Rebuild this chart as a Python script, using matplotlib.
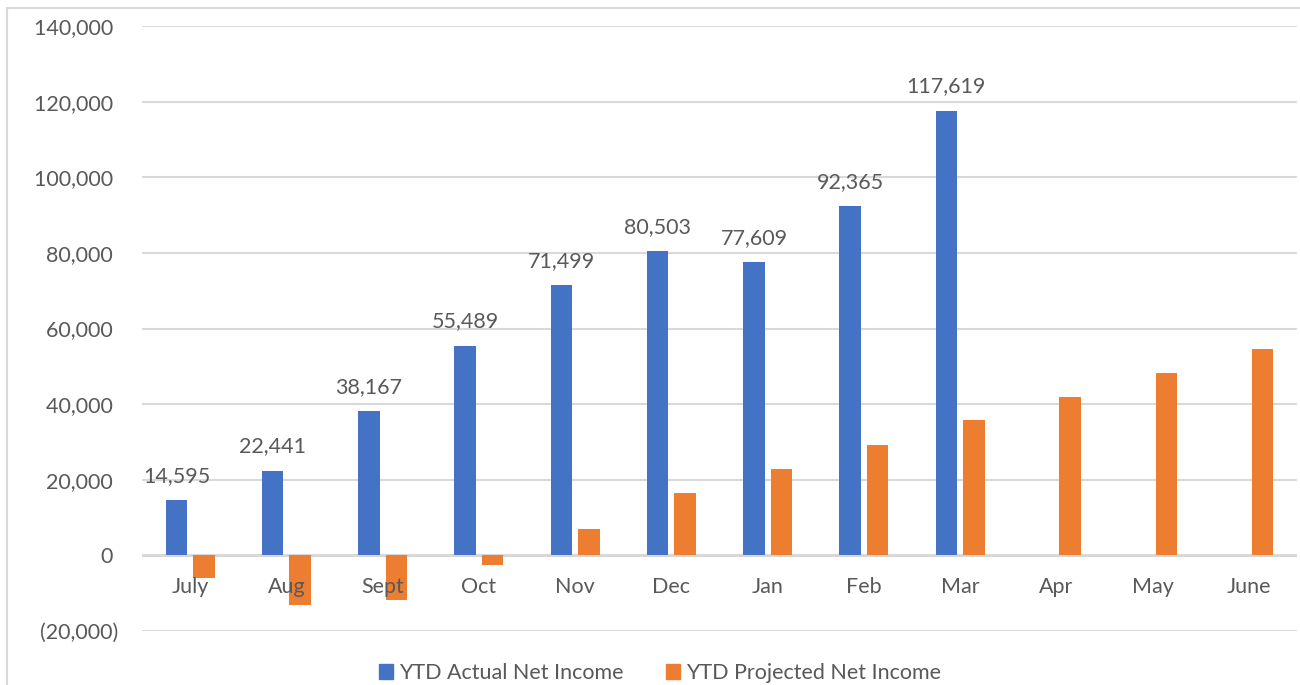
import matplotlib.pyplot as plt
from matplotlib.lines import Line2D
from matplotlib.patches import Patch
from matplotlib.ticker import FuncFormatter
import numpy as np

# Monthly YTD net income, actual vs projected
months = ['July', 'Aug', 'Sept', 'Oct', 'Nov', 'Dec', 'Jan', 'Feb', 'Mar', 'Apr', 'May', 'June']
actual = [14595, 22441, 38167, 55489, 71499, 80503, 77609, 92365, 117619]
projected = [-6100, -13200, -11900, -2500, 6900, 16400, 22850, 29300, 35700, 41850, 48200, 54500]

blue = '#4472C4'
orange = '#ED7D31'
txt = '#595959'
grid = '#D9D9D9'
fs = 15.5

plt.rcParams['font.family'] = ['Lato', 'DejaVu Sans']
plt.rcParams['font.size'] = fs

fig = plt.figure(figsize=(13, 6.85), dpi=100)
ax = fig.add_axes([142/1300, 1-631/685, 1155/1300, 605/685])

x = np.arange(len(months))
w = 0.224
off = 0.142
ax.bar(x[:len(actual)] - off, actual, w, color=blue, zorder=2)
ax.bar(x + off, projected, w, color=orange, zorder=2)

# value labels over the actual bars
for i, v in enumerate(actual):
    ax.annotate(f'{v:,}', (i - off, v), xytext=(0, 13), textcoords='offset points',
                ha='center', va='baseline', color=txt, fontsize=fs)

# category labels sit just under the zero line
for i, m in enumerate(months):
    ax.annotate(m, (i, 0), xytext=(0, -22.5), textcoords='offset points',
                ha='center', va='center', color=txt, fontsize=fs, zorder=5)

ax.set_xlim(-0.5, len(months) - 0.5)
ax.set_ylim(-20000, 140000)
ax.set_yticks(np.arange(-20000, 140001, 20000))
ax.yaxis.set_major_formatter(FuncFormatter(
    lambda v, p: f'({abs(v):,.0f})' if v < 0 else f'{v:,.0f} '))
ax.tick_params(axis='y', length=0, pad=17, colors=txt, labelsize=fs)
ax.set_xticks([])
ax.grid(axis='y', color=grid, lw=1.5, zorder=0)
ax.axhline(0, color='#D0D0D0', lw=2, zorder=1)
for s in ax.spines.values():
    s.set_visible(False)

# outer chart frame (left and top edges)
fig.add_artist(Line2D([7/1300, 7/1300], [0, 1-8/685], color=grid, lw=1.5))
fig.add_artist(Line2D([7/1300, 1], [1-8/685, 1-8/685], color=grid, lw=1.5))

handles = [Patch(color=blue, label='YTD Actual Net Income'),
           Patch(color=orange, label='YTD Projected Net Income')]
fig.legend(handles=handles, loc='center', bbox_to_anchor=(660/1300, 1-673/685), ncol=2,
           frameon=False, handlelength=0.65, handleheight=0.65, handletextpad=0.25,
           columnspacing=2.0, labelcolor=txt, fontsize=fs)

fig.savefig('out.png', dpi=100)
